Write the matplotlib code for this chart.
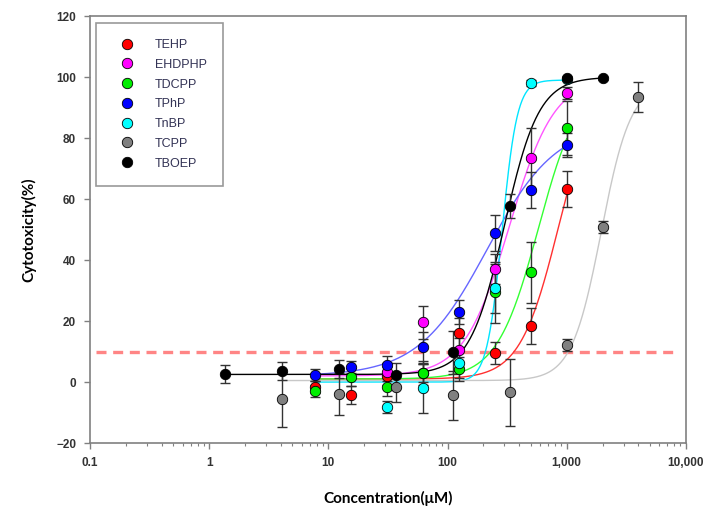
import numpy as np
import matplotlib
matplotlib.use("Agg")
import matplotlib.pyplot as plt
from matplotlib.lines import Line2D
from matplotlib.ticker import FixedLocator, FuncFormatter, LogLocator, NullFormatter

# concentrations (uM)
conc_2fold = [7.8, 15.6, 31.25, 62.5, 125, 250, 500, 1000]
conc_3fold = [1.37, 4.12, 12.3, 37, 111, 333, 1000, 2000]
conc_tcpp = [4.12, 12.3, 37, 111, 333, 1000, 2000, 4000]

# cytotoxicity (%) and error bars
tehp_y = [-1.5, -4.3, 2, 3, 16, 9.5, 18.4, 63.3]
tehp_err = [2, 3, 3, 3, 5, 3.5, 6, 6]
ehdphp_x = conc_2fold[2:]
ehdphp_y = [3.3, 19.6, 10.5, 37, 73.4, 94.8]
ehdphp_err = [3, 5.5, 4, 5, 10, 2]
tdcpp_y = [-3, 1.6, -1.6, 3, 4.2, 29.5, 36, 83.3]
tdcpp_err = [2, 3, 3, 4, 4, 10, 10, 9]
tphp_y = [2.3, 4.9, 5.6, 11.4, 23, 48.9, 63, 77.7]
tphp_err = [2, 2, 3, 5, 4, 6, 6, 4]
tnbp_x = conc_2fold[2:]
tnbp_y = [-8.2, -2, 6.3, 30.8, 98, 99.5]
tnbp_err = [2, 8, 5, 8, 1, 0.5]
tcpp_y = [-5.6, -3.9, -1.6, -4.3, -3.3, 12.1, 50.8, 93.4]
tcpp_err = [9, 7, 5, 8, 11, 2, 2, 5]
tboep_y = [2.6, 3.6, 4.3, 2.3, 9.8, 57.7, 99.6, 99.6]
tboep_err = [3, 3, 3, 4, 7, 4, 0.5, 0.5]

# dose-response fit parameters (bottom, top, EC50, hill slope)
tehp_fit = [1, 100, 850, 2.7]
ehdphp_fit = [2, 100, 330, 2.3]
tdcpp_fit = [1, 100, 580, 2.5]
tphp_fit = [2, 85, 215, 1.5]
tnbp_fit = [0, 99, 287, 6.8]
tcpp_fit = [0.5, 98, 1950, 3.5]
tboep_fit = [2.5, 100, 300, 3.0]

series = [
    ("TEHP", conc_2fold, tehp_y, tehp_err, tehp_fit, conc_2fold, "#ff0000", "#ff3030"),
    ("EHDPHP", ehdphp_x, ehdphp_y, ehdphp_err, ehdphp_fit, conc_2fold, "#ff00ff", "#ff55ff"),
    ("TDCPP", conc_2fold, tdcpp_y, tdcpp_err, tdcpp_fit, conc_2fold, "#00ee00", "#33ff33"),
    ("TPhP", conc_2fold, tphp_y, tphp_err, tphp_fit, conc_2fold, "#0000ff", "#6666ff"),
    ("TnBP", tnbp_x, tnbp_y, tnbp_err, tnbp_fit, conc_2fold, "#00ffff", "#00e5ff"),
    ("TCPP", conc_tcpp, tcpp_y, tcpp_err, tcpp_fit, conc_tcpp, "#808080", "#c8c8c8"),
    ("TBOEP", conc_3fold, tboep_y, tboep_err, tboep_fit, conc_3fold, "#000000", "#000000"),
]

fig = plt.figure(figsize=(7.11, 5.17), dpi=100)
ax = fig.add_axes([0.1266, 0.143, 0.838, 0.826])

handles = []
for i, (name, x, y, err, fit, xr, col, lcol) in enumerate(series):
    b, t, ec, n = fit
    xs = np.logspace(np.log10(xr[0]), np.log10(xr[-1]), 300)
    ax.plot(xs, b + (t - b) / (1 + (ec / xs) ** n), color=lcol, lw=1, zorder=2)
    ax.errorbar(x, y, yerr=err, fmt="none", ecolor="#333333", elinewidth=1,
                capsize=3.5, capthick=1, zorder=3)
    ax.plot(x, y, "o", color=col, mec="black", mew=0.6, ms=7.5, zorder=4 + i * 0.1)
    handles.append(Line2D([], [], marker="o", ls="none", color=col, mec="black",
                          mew=0.6, ms=7.5, label=name))

ax.axhline(10, xmin=0.01, xmax=0.985, color="#ff7070", lw=2.4, dashes=(3, 2), alpha=0.85, zorder=1)

ax.set_xscale("log")
ax.set_xlim(0.1, 10000)
ax.set_ylim(-20, 120)
ax.set_yticks(range(-20, 121, 20))
ax.xaxis.set_major_locator(FixedLocator([0.1, 1, 10, 100, 1000, 10000]))
ax.xaxis.set_minor_locator(LogLocator(base=10, subs=np.arange(2, 10)))
ax.xaxis.set_minor_formatter(NullFormatter())
ax.xaxis.set_major_formatter(FuncFormatter(lambda v, p: f"{v:,.0f}" if v >= 1 else f"{v:g}"))

for s in ax.spines.values():
    s.set_color("#808080")
    s.set_linewidth(1.2)
ax.tick_params(axis="both", which="major", direction="out", length=4, width=1, color="#808080",
               labelsize=8.5, labelcolor="#333333", pad=6)
ax.tick_params(axis="x", which="minor", direction="out", length=2.5, width=0.8, color="#808080")
for lab in ax.get_xticklabels() + ax.get_yticklabels():
    lab.set_fontweight("bold")
    lab.set_fontfamily("Liberation Sans")

ax.set_xlabel("Concentration(μM)", fontsize=11, fontweight="bold", family="Lato", labelpad=16)
ax.set_ylabel("Cytotoxicity(%)", fontsize=11, fontweight="bold", family="Lato", labelpad=14)

leg = ax.legend(handles=handles, loc="upper left", bbox_to_anchor=(0.01, 0.984), borderaxespad=0,
                frameon=True, fancybox=False, edgecolor="#808080", labelspacing=0.62,
                handlelength=2.4, handletextpad=1.0, borderpad=1.3,
                prop={"family": "Liberation Sans", "size": 9})
leg.get_frame().set_linewidth(1.2)
for txt in leg.get_texts():
    txt.set_color("#333355")

fig.savefig("out.png", dpi=100)
